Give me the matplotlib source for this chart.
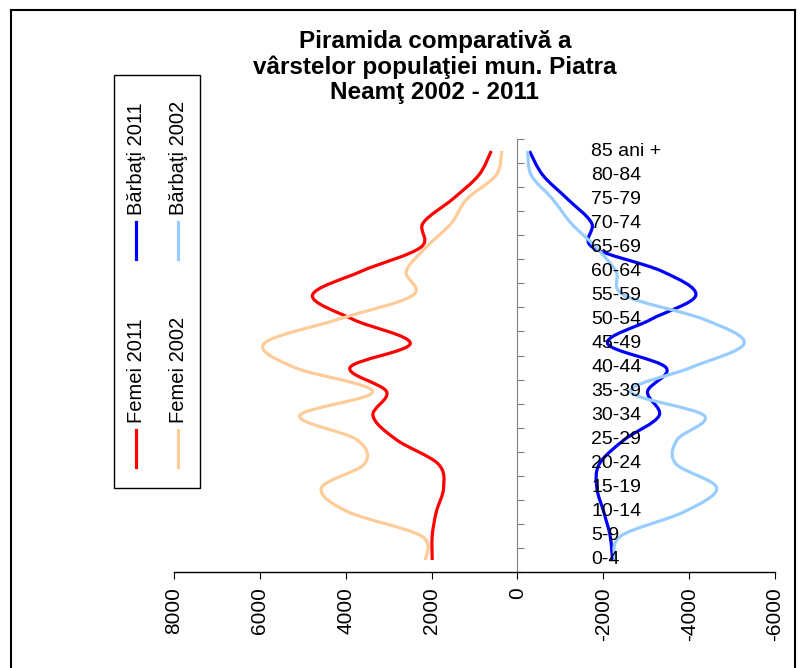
import numpy as np
import matplotlib
matplotlib.use("Agg")
import matplotlib.pyplot as plt
from matplotlib.path import Path
from matplotlib.patches import PathPatch
from matplotlib.lines import Line2D
import matplotlib.transforms as mtransforms

plt.rcParams['font.family'] = ['Liberation Sans', 'DejaVu Sans']
plt.rcParams['axes.unicode_minus'] = False

# grupe de varsta (de jos in sus)
grupe = ["0-4", "5-9", "10-14", "15-19", "20-24", "25-29", "30-34", "35-39",
         "40-44", "45-49", "50-54", "55-59", "60-64", "65-69", "70-74",
         "75-79", "80-84", "85 ani +"]

femei_2011 = [1985, 1985, 1890, 1720, 1850, 2820, 3365, 3050, 3900,
              2495, 3830, 4775, 3640, 2250, 2200, 1510, 900, 610]
femei_2002 = [2140, 2240, 3945, 4565, 3560, 3740, 5070, 3370, 5190,
              5900, 4185, 2440, 2590, 2125, 1540, 1180, 496, 365]
barbati_2011 = [2215, 2160, 2010, 1850, 1910, 2490, 3300, 3030, 3460,
                2100, 3110, 4155, 3370, 1750, 1730, 1170, 590, 280]
barbati_2002 = [2270, 2410, 3880, 4640, 3690, 3720, 4350, 2640, 4040,
                5280, 4350, 2490, 2295, 1830, 1250, 820, 320, 240]

x_ticks = [8000, 6000, 4000, 2000, 0, -2000, -4000, -6000]


def smooth_path(xs, ys):
    # curba Bezier ca la "smoothed line" din Excel
    pts = np.column_stack([xs, ys]).astype(float)
    n = len(pts)
    verts = [pts[0]]
    codes = [Path.MOVETO]
    for i in range(n - 1):
        p0 = pts[i - 1] if i > 0 else pts[i]
        p1 = pts[i]
        p2 = pts[i + 1]
        p3 = pts[i + 2] if i + 2 < n else pts[i + 1]
        verts += [p1 + (p2 - p0) / 6, p2 - (p3 - p1) / 6, p2]
        codes += [Path.CURVE4] * 3
    return Path(verts, codes)


fig = plt.figure(figsize=(7.98, 6.68), dpi=100)
ax = fig.add_axes([174 / 798, 1 - 572 / 668, 601 / 798, 433 / 668])

y = np.arange(len(grupe))
serii = [
    (femei_2011, 1, '#FF0000', 'Femei 2011'),
    (femei_2002, 1, '#FFCC99', 'Femei 2002'),
    (barbati_2011, -1, '#0000FF', 'Bărbaţi 2011'),
    (barbati_2002, -1, '#99CCFF', 'Bărbaţi 2002'),
]
for vals, semn, col, lab in serii:
    p = smooth_path(semn * np.array(vals), y)
    ax.add_patch(PathPatch(p, fill=False, edgecolor=col, lw=2.3,
                           capstyle='butt', joinstyle='round'))

ax.set_xlim(8000, -6000)
ax.set_ylim(-0.5, len(grupe) - 0.5)

ax.spines['top'].set_visible(False)
ax.spines['right'].set_visible(False)
ax.spines['left'].set_position(('data', 0))
ax.spines['left'].set_color('#808080')
ax.spines['bottom'].set_linewidth(1.0)

ax.set_yticks(np.arange(len(grupe) + 1) - 0.5)
ax.set_yticklabels([])
ax.tick_params(axis='y', direction='in', length=5, color='#808080')

ax.set_xticks(x_ticks)
ax.set_xticklabels([str(v) for v in x_ticks], rotation=90, fontsize=15)
ax.tick_params(axis='x', direction='out', length=5, pad=6)

trans = mtransforms.blended_transform_factory(ax.transAxes, ax.transData)
for i, g in enumerate(grupe):
    ax.text(0.694, i, g, transform=trans, ha='left', va='center', fontsize=14)

fig.text(0.545, 1 - 67 / 668,
         "Piramida comparativă a\nvârstelor populaţiei mun. Piatra\nNeamţ 2002 - 2011",
         ha='center', va='center', fontsize=17.5, fontweight='bold', linespacing=1.1)

# legenda verticala
def px(x, yy):
    return (x / 798, 1 - yy / 668)

box = plt.Rectangle(px(114, 488), 86 / 798, 413 / 668, transform=fig.transFigure,
                    fill=False, edgecolor='black', lw=1.0)
fig.add_artist(box)
leg = [
    (136, 467, 430, 423, '#FF0000', 'Femei 2011'),
    (136, 259, 222, 215, '#0000FF', 'Bărbaţi 2011'),
    (178, 467, 430, 423, '#FFCC99', 'Femei 2002'),
    (178, 259, 222, 215, '#99CCFF', 'Bărbaţi 2002'),
]
for lx, y0, y1, ty, col, lab in leg:
    fig.add_artist(Line2D([lx / 798, lx / 798], [1 - y0 / 668, 1 - y1 / 668],
                          transform=fig.transFigure, color=col, lw=2.3))
    fig.text(lx / 798, 1 - ty / 668, lab, rotation=90, ha='center', va='bottom',
             fontsize=14.5)

# chenar
for xs, ys in [([11, 11], [10, 700]), ([11, 795], [10, 10]), ([795, 795], [10, 700])]:
    fig.add_artist(Line2D([v / 798 for v in xs], [1 - v / 668 for v in ys],
                          transform=fig.transFigure, color='black', lw=1.5))

fig.savefig("out.png", dpi=100)
